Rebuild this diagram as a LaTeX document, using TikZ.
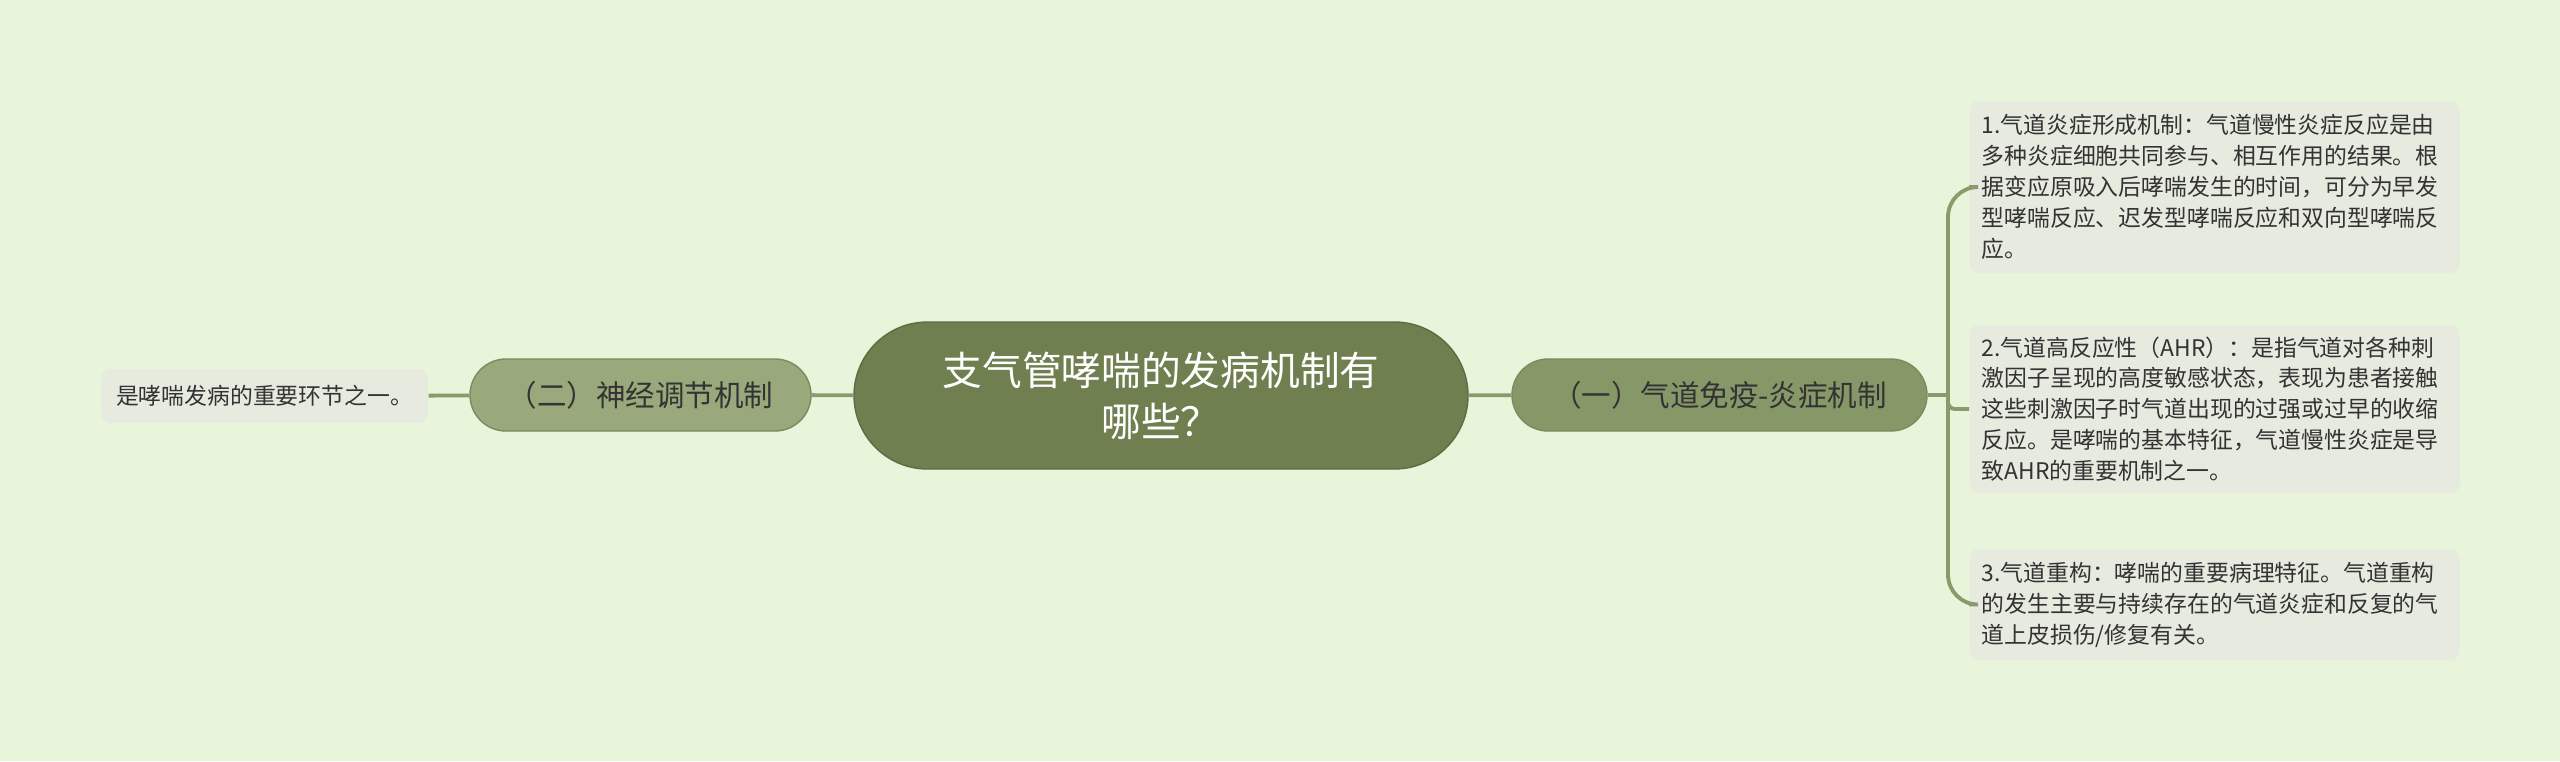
\documentclass[tikz,border=0pt]{standalone}
\usepackage{fontspec}
\newfontfamily\cjk{Noto Sans CJK SC}
\definecolor{bgc}{HTML}{E8F5DA}
\definecolor{rootc}{HTML}{6F7F50}
\definecolor{branchr}{HTML}{879868}
\definecolor{branchl}{HTML}{99A97B}
\definecolor{leafc}{HTML}{E6EADF}
\definecolor{linkc}{HTML}{8A9A6A}
\definecolor{txt}{HTML}{333333}
\begin{document}
\begin{tikzpicture}[
  root/.style={fill=rootc, draw=rootc!85!black, line width=0.4pt, rounded corners=0.735cm,
    minimum width=6.14cm, minimum height=1.47cm, align=center, text=white,
    font=\cjk\fontsize{11.3}{14.5}\selectfont},
  branch/.style={draw=linkc!90!black, line width=0.4pt, rounded corners=0.36cm,
    minimum height=0.72cm, text=txt, font=\cjk\fontsize{8.4}{10}\selectfont},
  leaf/.style={fill=leafc, rounded corners=0.1cm, anchor=west, align=left,
    text width=4.66cm, inner xsep=0.12cm, text=txt,
    font=\cjk\fontsize{6.5}{8.8}\selectfont},
  link/.style={draw=linkc, line width=1.1pt}
]
\useasboundingbox[fill=bgc] (0,0) rectangle (25.6,-7.61);
\node[root] at (11.61, -3.955) (q) {支气管哮喘的发病机制有\\哪些？};
\node[branch, fill=branchr, minimum width=4.15cm] at (17.195, -3.95) (imm) {（一）气道免疫-炎症机制};
\node[branch, fill=branchl, minimum width=3.41cm] at (6.405, -3.95) (nerve) {（二）神经调节机制};
\node[fill=leafc, rounded corners=0.1cm, minimum width=3.27cm, minimum height=0.54cm,
  text=txt, font=\cjk\fontsize{6.5}{8.8}\selectfont] at (2.645, -3.96) (ring) {是哮喘发病的重要环节之一。};
\node[leaf, minimum height=1.72cm] at (19.69, -1.87) (infl) {1.气道炎症形成机制：气道慢性炎症反应是由\\多种炎症细胞共同参与、相互作用的结果。根\\据变应原吸入后哮喘发生的时间，可分为早发\\型哮喘反应、迟发型哮喘反应和双向型哮喘反\\应。};
\node[leaf, minimum height=1.68cm] at (19.69, -4.09) (ahr) {2.气道高反应性（AHR）：是指气道对各种刺\\激因子呈现的高度敏感状态，表现为患者接触\\这些刺激因子时气道出现的过强或过早的收缩\\反应。是哮喘的基本特征，气道慢性炎症是导\\致AHR的重要机制之一。};
\node[leaf, minimum height=1.11cm] at (19.69, -6.045) (remod) {3.气道重构：哮喘的重要病理特征。气道重构\\的发生主要与持续存在的气道炎症和反复的气\\道上皮损伤/修复有关。};
\coordinate (fork) at (19.48, -3.95);
\draw[link] (q) -- (imm);
\draw[link] (q) -- (nerve);
\draw[link] (nerve) -- (ring);
\draw[link] (imm) -- (fork);
\draw[link, rounded corners=0.3cm] (fork) |- (infl.west);
\draw[link, rounded corners=0.07cm] (fork) |- (ahr.west);
\draw[link, rounded corners=0.3cm] (fork) |- (remod.west);
\end{tikzpicture}
\end{document}
